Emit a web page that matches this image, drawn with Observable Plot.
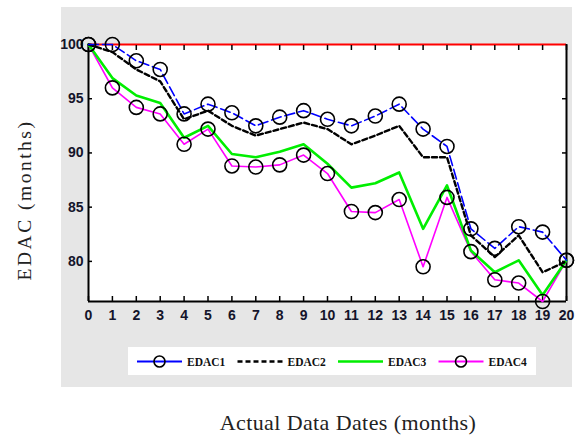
<!DOCTYPE html>
<html><head><meta charset="utf-8">
<script src="https://cdn.jsdelivr.net/npm/d3@7"></script>
<script src="https://cdn.jsdelivr.net/npm/@observablehq/plot@0.6"></script>
<style>
body{margin:0;background:#fff;}
#wrap{position:relative;width:581px;height:438px;overflow:hidden;}
#panel{position:absolute;left:61px;top:7px;width:511px;height:380px;background:#e6e6e6;}
#chart{position:absolute;left:0;top:0;}
#legend{position:absolute;left:128px;top:347px;}
#xlabel{position:absolute;left:348px;top:411.5px;transform:translateX(-50%);font:22px "Liberation Serif","Times New Roman",serif;line-height:1;white-space:nowrap;letter-spacing:0.4px;color:#222;}
#ylabel{position:absolute;left:25px;top:200px;transform:translate(-50%,-50%) rotate(-90deg);font:19.5px "Liberation Serif","Times New Roman",serif;line-height:1;white-space:nowrap;letter-spacing:2.5px;color:#222;}
</style></head><body>
<div id="wrap"><div id="panel"></div><div id="chart"></div><div id="legend"></div>
<div id="xlabel">Actual Data Dates (months)</div><div id="ylabel">EDAC (months)</div></div>
<script>
const months = [0,1,2,3,4,5,6,7,8,9,10,11,12,13,14,15,16,17,18,19,20];
const edac1 = [100, 100, 98.5, 97.7, 93.6, 94.5, 93.7, 92.5, 93.3, 93.9, 93.1, 92.5, 93.4, 94.5, 92.2, 90.6, 83.0, 81.2, 83.2, 82.7, 80.1];
const edac2 = [100, 99.3, 97.7, 96.6, 93.1, 93.9, 92.5, 91.6, 92.2, 92.8, 92.2, 90.8, 91.6, 92.5, 89.6, 89.6, 82.4, 80.4, 82.4, 79.0, 80.0];
const edac3 = [100, 96.9, 95.3, 94.6, 91.4, 92.5, 89.9, 89.6, 90.1, 90.8, 89.0, 86.8, 87.2, 88.2, 83.0, 87.0, 81.0, 79.0, 80.1, 76.9, 80.1];
const edac4 = [100, 96.0, 94.2, 93.6, 90.8, 92.2, 88.8, 88.7, 88.9, 89.8, 88.1, 84.6, 84.5, 85.7, 79.5, 85.9, 80.9, 78.3, 78.0, 76.3, 80.1];
const yTicks = [80, 85, 90, 95, 100];
const reference = 100;
const seriesNames = ["EDAC1", "EDAC2", "EDAC3", "EDAC4"];

const toRows = (vals, name) => months.map((m, i) => ({month: m, value: vals[i], series: name}));
const r1 = toRows(edac1, "EDAC1"), r2 = toRows(edac2, "EDAC2"), r3 = toRows(edac3, "EDAC3"), r4 = toRows(edac4, "EDAC4");
const yDomain = [76.3, 100];
const tickFont = {fontWeight: "bold", fontSize: 14, fill: "#14142a"};

const chart = Plot.plot({
  width: 581, height: 438,
  marginLeft: 88, marginRight: 15, marginTop: 44, marginBottom: 137,
  style: {background: "transparent", fontFamily: "Arial, 'Liberation Sans', sans-serif"},
  x: {domain: [0, 20]},
  y: {domain: yDomain},
  marks: [
    Plot.frame({fill: "white", stroke: null}),
    Plot.ruleY([reference], {stroke: "#ff0000", strokeWidth: 2}),
    Plot.axisX({anchor: "bottom", ticks: months, tickSize: -5, tickPadding: 14, label: null, strokeWidth: 1.5, ...tickFont}),
    Plot.axisX({anchor: "top", ticks: months, tickSize: -5, tickFormat: () => "", label: null, strokeWidth: 1.5}),
    Plot.axisY({anchor: "left", ticks: yTicks, tickSize: -4, tickPadding: 9, label: null, strokeWidth: 1.5, ...tickFont}),
    Plot.axisY({anchor: "right", ticks: yTicks.filter(t => t < 100), tickSize: -5, tickFormat: () => "", label: null, strokeWidth: 1.5}),
    Plot.ruleX([0, 20], {stroke: "black", strokeWidth: 2}),
    Plot.ruleY([yDomain[0]], {stroke: "black", strokeWidth: 2.2}),
    Plot.line(r4, {x: "month", y: "value", stroke: "#ff00ff", strokeWidth: 1.6}),
    Plot.line(r3, {x: "month", y: "value", stroke: "#00ee00", strokeWidth: 2.6}),
    Plot.line(r2, {x: "month", y: "value", stroke: "black", strokeWidth: 2.4, strokeDasharray: "5,3"}),
    Plot.line(r1, {x: "month", y: "value", stroke: "#0000ff", strokeWidth: 1.6, strokeDasharray: "10,4"}),
    Plot.dot(r1, {x: "month", y: "value", r: 7, stroke: "black", strokeWidth: 1.6, fill: "none"}),
    Plot.dot(r4, {x: "month", y: "value", r: 7, stroke: "black", strokeWidth: 1.6, fill: "none"})
  ]
});
document.getElementById("chart").appendChild(chart);

// legend
const styles = {
  EDAC1: {stroke: "#0000ff", width: 2.2, dash: null, marker: true},
  EDAC2: {stroke: "black", width: 2.4, dash: "5,3", marker: false},
  EDAC3: {stroke: "#00ee00", width: 2.6, dash: null, marker: false},
  EDAC4: {stroke: "#ff00ff", width: 2, dash: null, marker: true}
};
const lg = d3.select("#legend").append("svg").attr("width", 408).attr("height", 28);
lg.append("rect").attr("width", 408).attr("height", 28).attr("fill", "white");
seriesNames.forEach((name, i) => {
  const s = styles[name];
  const x0 = 9 + i * 100.5;
  const g = lg.append("g").attr("transform", `translate(${x0},14.5)`);
  g.append("line").attr("x1", 0).attr("x2", 45).attr("stroke", s.stroke).attr("stroke-width", s.width).attr("stroke-dasharray", s.dash);
  if (s.marker) g.append("circle").attr("cx", 22.5).attr("r", 5.5).attr("fill", "none").attr("stroke", "black").attr("stroke-width", 1.6);
  g.append("text").attr("x", 50).attr("dy", "0.35em").text(name)
    .attr("font-family", "'Liberation Serif','Times New Roman',serif").attr("font-weight", "bold").attr("font-size", 11.5).attr("fill", "#111");
});
</script>
</body></html>
